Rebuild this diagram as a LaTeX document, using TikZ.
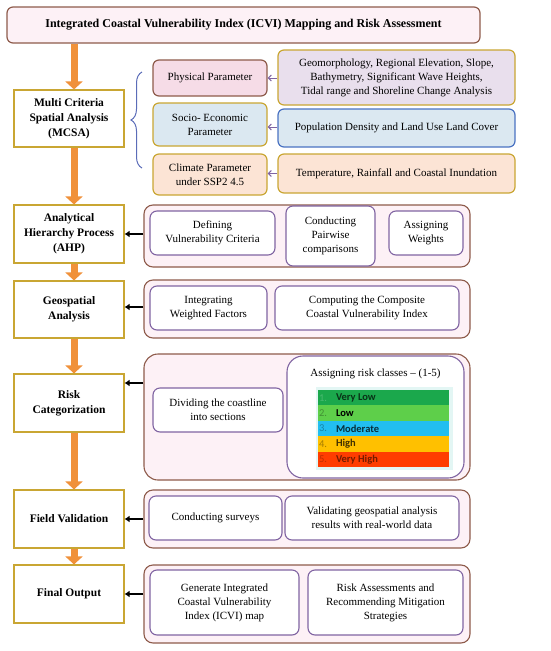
\documentclass[tikz,border=0pt]{standalone}
\usepackage{fontspec}
\setmainfont{Liberation Serif}
\newfontfamily\calibri{Carlito}
\usetikzlibrary{arrows.meta}
\usetikzlibrary{decorations.pathreplacing}
\definecolor{brn}{HTML}{8E5B4B}
\definecolor{gold}{HTML}{C9A633}
\definecolor{purp}{HTML}{8064A2}
\definecolor{popblue}{HTML}{4A72C2}
\definecolor{bracecol}{HTML}{5B6CB8}
\definecolor{physfill}{HTML}{F6DCE7}
\definecolor{socfill}{HTML}{DBE8F1}
\definecolor{climfill}{HTML}{FCE4D5}
\definecolor{geofill}{HTML}{E9DFED}
\definecolor{grpfill}{HTML}{FDF1F6}
\definecolor{tblfill}{HTML}{E3F6F4}
\definecolor{arrfill}{HTML}{F0913A}
\definecolor{vlow}{HTML}{1BA84C}
\definecolor{low}{HTML}{5ECF4A}
\definecolor{moder}{HTML}{22BEF0}
\definecolor{high}{HTML}{FFC000}
\definecolor{vhigh}{HTML}{FF3D00}
\tikzstyle{bigarr}=[draw=arrfill,line width=7pt,-{Triangle[length=8pt,width=17pt]}]
\tikzstyle{blkarr}=[line width=1.8pt,-{Latex[length=5pt,width=7pt]}]
\tikzstyle{parr}=[draw=purp,line width=1pt,-{Straight Barb[length=3pt,width=6pt]}]
\tikzset{sz/.style 2 args={minimum width=#1pt,minimum height=#2pt}}
\tikzset{lbox/.style={draw=gold,line width=1.1pt,fill=white,inner sep=0pt,align=center,font=\bfseries\fontsize{11.5}{15}\selectfont}}
\tikzset{pbox/.style={rounded corners=6pt,line width=1.2pt,inner sep=0pt,align=center,font=\fontsize{11}{14}\selectfont}}
\tikzset{grp/.style={draw=brn,fill=grpfill,rounded corners=9pt,line width=1.1pt}}
\tikzset{ibox/.style={draw=purp,fill=white,rounded corners=7pt,line width=1.1pt,inner sep=0pt,align=center,font=\fontsize{11}{14}\selectfont}}
\tikzset{riskrow/.style={minimum width=131pt,minimum height=15.4pt,inner sep=0pt}}

\begin{document}
\begin{tikzpicture}[x=1pt,y=-1pt]
  \useasboundingbox (0,0) rectangle (550,651);
  \node[pbox,draw=brn,fill=grpfill,sz={473}{36},font=\bfseries\fontsize{12}{14}\selectfont] (title) at (243.5,25) {Integrated Coastal Vulnerability Index (ICVI) Mapping and Risk Assessment};
  % left column
  \node[lbox,sz={110}{57}] (mcsa) at (69,118.5) {Multi Criteria\\Spatial Analysis\\(MCSA)};
  \node[lbox,sz={110}{58}] (ahp) at (69,234) {Analytical\\Hierarchy Process\\(AHP)};
  \node[lbox,sz={110}{57}] (geo) at (69,309.5) {Geospatial\\Analysis};
  \node[lbox,sz={110}{58}] (risk) at (69,403) {Risk\\Categorization};
  \node[lbox,sz={110}{58}] (field) at (69,519) {Field Validation};
  \node[lbox,sz={110}{58}] (final) at (69,594) {Final Output};
  \draw[bigarr] ([xshift=5pt]title.south -| mcsa.north) -- ([xshift=5pt]mcsa.north);
  \draw[bigarr] ([xshift=5pt]mcsa.south) -- ([xshift=5pt]ahp.north);
  \draw[bigarr] ([xshift=5pt]ahp.south) -- ([xshift=5pt]geo.north);
  \draw[bigarr] ([xshift=5pt]geo.south) -- ([xshift=5pt]risk.north);
  \draw[bigarr] ([xshift=5pt]risk.south) -- ([xshift=5pt]field.north);
  \draw[bigarr] ([xshift=5pt]field.south) -- ([xshift=5pt]final.north);
  % MCSA parameters
  \node[pbox,draw=brn,fill=physfill,sz={114}{36}] (phys) at (210,78) {Physical Parameter};
  \node[pbox,draw=gold,fill=socfill,sz={114}{43}] (socio) at (210,124.5) {Socio- Economic\\Parameter};
  \node[pbox,draw=gold,fill=climfill,sz={114}{41}] (clim) at (210,174.5) {Climate Parameter\\under SSP2 4.5};
  \node[pbox,draw=gold,fill=geofill,sz={237}{55}] (geomorph) at (396.5,77.5) {Geomorphology, Regional Elevation, Slope,\\Bathymetry, Significant Wave Heights,\\Tidal range and Shoreline Change Analysis};
  \node[pbox,draw=popblue,fill=socfill,sz={237}{38}] (popden) at (396.5,128) {Population Density and Land Use Land Cover};
  \node[pbox,draw=gold,fill=climfill,sz={237}{39}] (temp) at (396.5,173.5) {Temperature, Rainfall and Coastal Inundation};
  \draw[parr] (geomorph.west |- phys.east) -- (phys.east);
  \draw[parr] (popden.west |- 0,127) -- (socio.east |- 0,127);
  \draw[parr] (temp.west) -- (clim.east |- temp.west);
  \coordinate (btop) at (142,72);
  \coordinate (bbot) at (142,168);
  \draw[bracecol,line width=1pt,decorate,decoration={brace,amplitude=11pt,aspect=.5}] (bbot) -- (btop);
  % AHP
  \node[grp,sz={326}{62}] (ahpgrp) at (307,236) {};
  \node[ibox,sz={125}{44}] (crit) at (212.5,233) {Defining\\Vulnerability Criteria};
  \node[ibox,sz={89}{60}] (pair) at (330.5,236) {Conducting\\Pairwise\\comparisons};
  \node[ibox,sz={74}{44}] (wts) at (426,233) {Assigning\\Weights};
  \draw[blkarr] (ahpgrp.west |- ahp.east) -- (ahp.east);
  % geospatial
  \node[grp,sz={326}{58}] (geogrp) at (307,309) {};
  \node[ibox,sz={117}{44}] (integ) at (208.5,308) {Integrating\\Weighted Factors};
  \node[ibox,sz={184}{44}] (cvi) at (367,308) {Computing the Composite\\Coastal Vulnerability Index};
  \draw[blkarr] (geogrp.west |- 0,307) -- (geo.east |- 0,307);
  % risk classes
  \node[grp,sz={326}{126},rounded corners=14pt] (riskgrp) at (307,417) {};
  \node[ibox,sz={130}{44}] (sect) at (218,410) {Dividing the coastline\\into sections};
  \node[ibox,sz={177}{122},rounded corners=16pt] (classes) at (375.5,417) {};
  \node[font=\fontsize{11}{14}\selectfont] (clstitle) at (375.5,374) {Assigning risk classes -- (1-5)};
  \node[fill=tblfill,minimum width=137pt,minimum height=83pt] (tblbg) at (384,428.5) {};
  \foreach \i/\lab/\fc/\nc/\tc in {1/Very Low/vlow/vlow!80!white/vlow!30!black,
      2/Low/low/low!70!black/black,
      3/Moderate/moder/moder!70!black/moder!25!black,
      4/High/high/high!65!black/high!25!black,
      5/Very High/vhigh/vhigh!75!black/vhigh!45!black} {
    \node[riskrow,fill=\fc] (row\i) at (383.5,{382.3+15.4*\i}) {};
    \node[anchor=west,inner sep=0pt,text=\nc,font=\calibri\fontsize{10.5}{12}\selectfont] (num\i) at ([xshift=1pt]row\i.west) {\i.};
    \node[anchor=west,inner sep=0pt,text=\tc,font=\calibri\bfseries\fontsize{10.5}{12}\selectfont] (lab\i) at ([xshift=18pt]row\i.west) {\lab};
  }
  \draw[blkarr] (riskgrp.west |- 0,383) -- (risk.east |- 0,383);
  % field validation
  \node[grp,sz={326}{58}] (fieldgrp) at (307,519) {};
  \node[ibox,sz={133}{44}] (surv) at (215.5,518) {Conducting surveys};
  \node[ibox,sz={174}{44}] (valid) at (372,518) {Validating geospatial analysis\\results with real-world data};
  \draw[blkarr] (fieldgrp.west |- field.east) -- (field.east);
  % final output
  \node[grp,sz={326}{78}] (finalgrp) at (307,604) {};
  \node[ibox,sz={149}{65}] (icvimap) at (224.5,602.5) {Generate Integrated\\Coastal Vulnerability\\Index (ICVI) map};
  \node[ibox,sz={155}{65}] (mitig) at (385.5,602.5) {Risk Assessments and\\Recommending Mitigation\\Strategies};
  \draw[blkarr] (finalgrp.west |- final.east) -- (final.east);
\end{tikzpicture}
\end{document}
